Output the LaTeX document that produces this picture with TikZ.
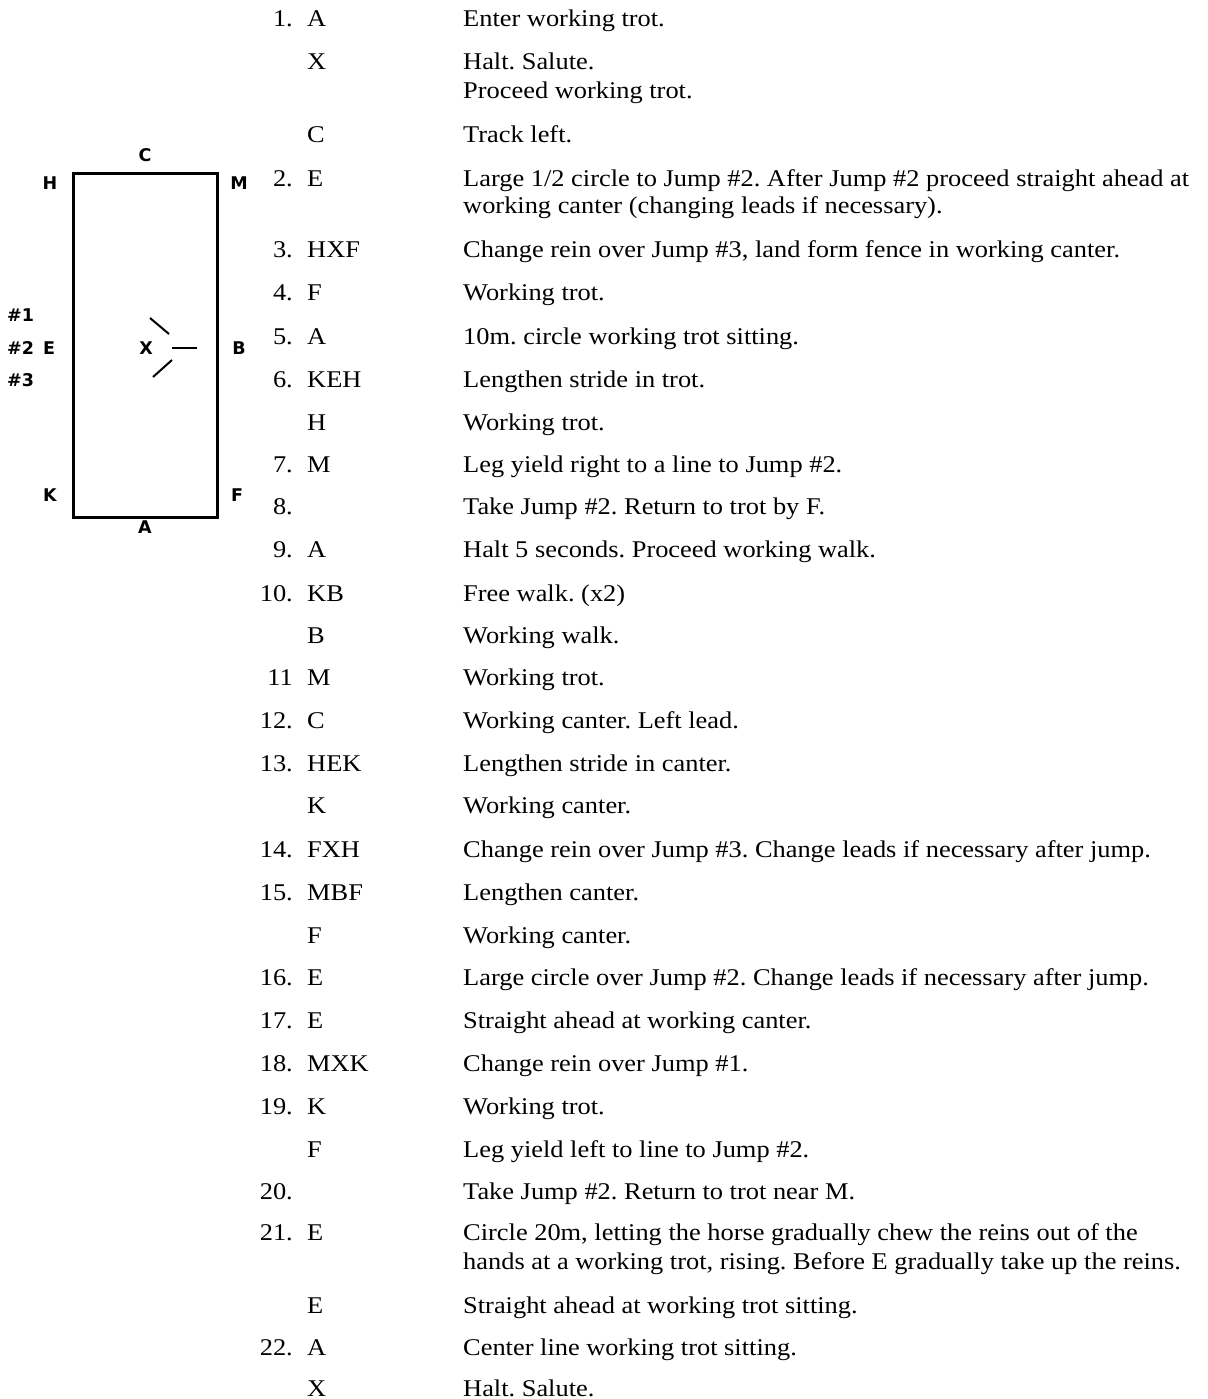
\documentclass[tikz,border=0pt]{standalone}
\usepackage{fontspec}
\setmainfont[FakeStretch=1.1]{Liberation Serif}
\newfontfamily\lblfont{DejaVu Sans}
\frenchspacing
\tikzset{
  txt/.style={inner sep=0pt, font=\fontsize{24}{28}\selectfont\frenchspacing},
  colnum/.style={txt, anchor=base east},
  colmk/.style={txt, anchor=base west},
  coldesc/.style={txt, anchor=base west},
  arenalbl/.style={inner sep=0pt, anchor=center, font=\lblfont\bfseries\fontsize{17.5}{20}\selectfont},
  arenaside/.style={arenalbl, anchor=west},
  arenaline/.style={line width=2pt, line cap=butt},
}
\newcommand{\rowentry}[5]{%
  \node[colnum] (n#1) at (293,#2) {#3};
  \node[colmk] (m#1) at (307,#2) {#4};
  \node[coldesc] (d#1) at (463,#2) {#5};
}
\begin{document}
\begin{tikzpicture}[x=1pt,y=-1pt]
\useasboundingbox (0,0) rectangle (1207,1399);
% arena
\draw[line width=3pt] (73,174) rectangle (217,517);
\node[arenalbl] (lC) at (145,155) {C};
\node[arenalbl] (lH) at (50,183) {H};
\node[arenalbl] (lM) at (239,183) {M};
\node[arenaside] (j1) at (7,315) {\#1};
\node[arenaside] (j2) at (7,348) {\#2};
\node[arenaside] (j3) at (7,380) {\#3};
\node[arenalbl] (lE) at (49,348) {E};
\node[arenalbl] (lX) at (146,348) {X};
\node[arenalbl] (lB) at (239,348) {B};
\node[arenalbl] (lK) at (50,495) {K};
\node[arenalbl] (lF) at (237,495) {F};
\node[arenalbl] (lA) at (145,527) {A};
\coordinate (fa1) at (150,318);
\coordinate (fa2) at (169,334);
\coordinate (fb1) at (172,348);
\coordinate (fb2) at (197,348);
\coordinate (fc1) at (172,360);
\coordinate (fc2) at (153,377);
\draw[arenaline] (fa1) -- (fa2);
\draw[arenaline] (fb1) -- (fb2);
\draw[arenaline] (fc1) -- (fc2);
% test
\rowentry{1}{27}{1.}{A}{Enter working trot.}
\rowentry{1x}{70}{}{X}{Halt. Salute.}
\node[coldesc] (d1xb) at (463,99) {Proceed working trot.};
\rowentry{1c}{143}{}{C}{Track left.}
\rowentry{2}{186}{2.}{E}{Large 1/2 circle to Jump \#2. After Jump \#2 proceed straight ahead at}
\node[coldesc] (d2b) at (463,213) {working canter (changing leads if necessary).};
\rowentry{3}{257}{3.}{HXF}{Change rein over Jump \#3, land form fence in working canter.}
\rowentry{4}{300}{4.}{F}{Working trot.}
\rowentry{5}{344}{5.}{A}{10m. circle working trot sitting.}
\rowentry{6}{387}{6.}{KEH}{Lengthen stride in trot.}
\rowentry{6h}{430}{}{H}{Working trot.}
\rowentry{7}{472}{7.}{M}{Leg yield right to a line to Jump \#2.}
\rowentry{8}{514}{8.}{}{Take Jump \#2. Return to trot by F.}
\rowentry{9}{557}{9.}{A}{Halt 5 seconds. Proceed working walk.}
\rowentry{10}{601}{10.}{KB}{Free walk. (x2)}
\rowentry{10b}{643}{}{B}{Working walk.}
\rowentry{11}{685}{11}{M}{Working trot.}
\rowentry{12}{728}{12.}{C}{Working canter. Left lead.}
\rowentry{13}{771}{13.}{HEK}{Lengthen stride in canter.}
\rowentry{13k}{813}{}{K}{Working canter.}
\rowentry{14}{857}{14.}{FXH}{Change rein over Jump \#3. Change leads if necessary after jump.}
\rowentry{15}{900}{15.}{MBF}{Lengthen canter.}
\rowentry{15f}{943}{}{F}{Working canter.}
\rowentry{16}{985}{16.}{E}{Large circle over Jump \#2. Change leads if necessary after jump.}
\rowentry{17}{1028}{17.}{E}{Straight ahead at working canter.}
\rowentry{18}{1071}{18.}{MXK}{Change rein over Jump \#1.}
\rowentry{19}{1114}{19.}{K}{Working trot.}
\rowentry{19f}{1157}{}{F}{Leg yield left to line to Jump \#2.}
\rowentry{20}{1199}{20.}{}{Take Jump \#2. Return to trot near M.}
\rowentry{21}{1240}{21.}{E}{Circle 20m, letting the horse gradually chew the reins out of the}
\node[coldesc] (d21b) at (463,1269) {hands at a working trot, rising. Before E gradually take up the reins.};
\rowentry{21e}{1313}{}{E}{Straight ahead at working trot sitting.}
\rowentry{22}{1355}{22.}{A}{Center line working trot sitting.}
\rowentry{22x}{1396}{}{X}{Halt. Salute.}
\end{tikzpicture}
\end{document}
